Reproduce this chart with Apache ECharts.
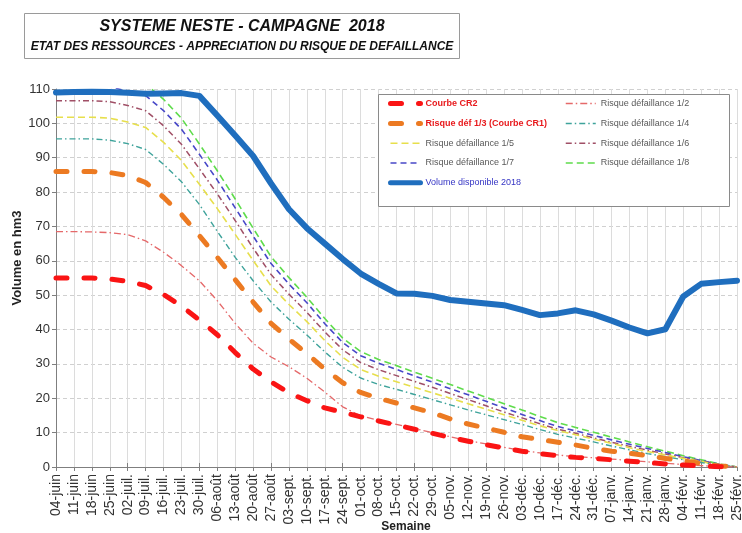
<!DOCTYPE html>
<html>
<head>
<meta charset="utf-8">
<script src="https://cdn.jsdelivr.net/npm/echarts@6/dist/echarts.min.js"></script>
<style>
  html, body { margin: 0; padding: 0; background: #fff; }
  #chart { width: 742px; height: 533px; }
</style>
</head>
<body>
<div id="chart"></div>
<script>
// Weekly dates of the campaign (June 2018 -> February 2019)
const weeks = ['04-juin','11-juin','18-juin','25-juin','02-juil.','09-juil.','16-juil.','23-juil.','30-juil.',
  '06-août','13-août','20-août','27-août','03-sept.','10-sept.','17-sept.','24-sept.','01-oct.','08-oct.',
  '15-oct.','22-oct.','29-oct.','05-nov.','12-nov.','19-nov.','26-nov.','03-déc.','10-déc.','17-déc.',
  '24-déc.','31-déc.','07-janv.','14-janv.','21-janv.','28-janv.','04-févr.','11-févr.','18-févr.','25-févr.'];

const yTicks = [0, 10, 20, 30, 40, 50, 60, 70, 80, 90, 100, 110];

// Volumes in hm3
const courbeCR2 = [55, 55, 55, 54.7, 54, 52.8, 50.2, 46.8, 42.8, 38.5, 33.3, 28.5, 24.8, 21.6, 19.3, 17.2, 15.9, 14.6, 13.4,
  12.2, 11, 9.8, 8.6, 7.5, 6.5, 5.5, 4.6, 3.9, 3.3, 2.8, 2.5, 2.1, 1.7, 1.3, 0.9, 0.6, 0.3, 0.1, 0];
const risque12 = [68.5, 68.5, 68.4, 68.2, 67.6, 65.8, 62.5, 58.6, 54.2, 48.4, 41.8, 36, 32, 29.2, 25.8, 21.8, 17.5, 14.9, 13.6,
  12.4, 11.2, 10, 8.8, 7.7, 6.7, 5.7, 4.8, 4.1, 3.5, 3.0, 2.7, 2.3, 1.9, 1.5, 1.1, 0.7, 0.4, 0.1, 0];
const courbeCR1 = [86, 86, 86, 85.7, 84.8, 82.8, 78.5, 73.5, 67.3, 61, 54.5, 48, 41.8, 37.2, 33, 28.5, 24.5, 21.7, 20,
  18.6, 17.2, 15.8, 14.0, 12.5, 11.3, 10.1, 8.8, 8.0, 7.2, 6.4, 5.4, 4.6, 4.0, 3.3, 2.5, 1.8, 1.0, 0.3, 0];
const risque14 = [95.5, 95.5, 95.5, 95.1, 94.1, 92.4, 88.1, 83.0, 76.4, 68.6, 61.0, 54.2, 48.0, 43.0, 38.4, 33.5, 29.0, 25.9, 24.0,
  22.6, 21.1, 19.6, 18.1, 16.6, 15.2, 13.8, 12.4, 10.9, 9.5, 8.4, 7.3, 6.1, 5.0, 3.9, 3.0, 2.1, 1.3, 0.5, 0];
const risque15 = [101.8, 101.8, 101.8, 101.5, 100.4, 98.8, 94.5, 89.2, 82.3, 75.2, 67.7, 60.1, 52.7, 47.3, 42.3, 36.8, 31.9, 28.4, 26.4,
  24.8, 23.2, 21.6, 20.0, 18.4, 16.8, 15.2, 13.6, 12.0, 10.6, 9.4, 8.1, 6.9, 5.6, 4.5, 3.5, 2.5, 1.6, 0.6, 0];
const risque16 = [106.6, 106.6, 106.6, 106.3, 105.2, 103.7, 99.3, 93.9, 86.8, 79.5, 71.7, 63.7, 56.0, 50.3, 45.0, 39.3, 34.1, 30.4, 28.3,
  26.6, 24.9, 23.2, 21.4, 19.6, 17.8, 16.0, 14.3, 12.6, 11.0, 9.8, 8.5, 7.2, 6.0, 4.9, 3.8, 2.7, 1.7, 0.7, 0];
const risque17 = [111, 111, 111, 110.6, 109.4, 108.1, 103.7, 98.3, 91.0, 83.5, 75.4, 67.2, 59.2, 53.2, 47.8, 41.7, 36.2, 32.4, 30.2,
  28.4, 26.5, 24.7, 22.8, 21.0, 19.1, 17.2, 15.3, 13.5, 11.8, 10.5, 9.2, 7.9, 6.6, 5.4, 4.2, 3.0, 1.9, 0.8, 0];
const risque18 = [114.4, 114.4, 114.4, 114.0, 112.8, 111.5, 107.0, 101.5, 94.0, 86.2, 78.0, 69.5, 61.2, 55.1, 49.4, 43.2, 37.5, 33.6, 31.3,
  29.5, 27.6, 25.8, 24.0, 22.1, 20.3, 18.4, 16.6, 14.7, 12.9, 11.5, 10.1, 8.7, 7.3, 5.9, 4.6, 3.3, 2.1, 0.9, 0];
const volume2018 = [109, 109.1, 109.2, 109.1, 108.9, 108.6, 108.7, 108.8, 108.0, 102.3, 96.5, 90.5, 82.5, 75, 69.5, 65, 60.5, 56.3, 53.3,
  50.5, 50.4, 49.8, 48.6, 48.1, 47.6, 47.1, 45.7, 44.2, 44.7, 45.6, 44.4, 42.6, 40.6, 38.9, 40.1, 49.6, 53.3, 53.8, 54.2];

const FONT = 'Liberation Sans, Arial, sans-serif';

function line(name, data, color, width, dash, z) {
  return {
    type: 'line', name: name, data: data, symbol: 'none', z: z,
    lineStyle: { color: color, width: width, type: dash, cap: width > 3 ? 'round' : 'butt', join: 'round' },
    itemStyle: { color: color },
    emphasis: { disabled: true }
  };
}

// legend entries show only the line sample, no marker
const legendBase = {
  orient: 'vertical', top: 98, padding: 0, itemWidth: 30, itemHeight: 14, itemGap: 8.6,
  selectedMode: false, z: 5,
  itemStyle: { color: 'rgba(0,0,0,0)', borderWidth: 0, opacity: 0 },
  lineStyle: { width: 1.5 },
  textStyle: { fontSize: 9, color: '#595959', fontFamily: FONT }
};

const chart = echarts.init(document.getElementById('chart'), null, { renderer: 'canvas' });

chart.setOption({
  animation: false,
  backgroundColor: '#fff',
  grid: { left: 56, right: 5, top: 89, bottom: 66, outerBoundsMode: 'none' },
  xAxis: [{
    type: 'category', data: weeks, boundaryGap: false,
    axisLine: { lineStyle: { color: '#7f7f7f', width: 1 } },
    axisTick: { show: true, length: 4, alignWithLabel: true, lineStyle: { color: '#7f7f7f' } },
    axisLabel: { rotate: 90, fontSize: 14, color: '#333', fontFamily: FONT, margin: 7, interval: 0 },
    splitLine: { show: true, lineStyle: { color: '#dcdcdc', width: 1, type: 'solid' } }
  }, {
    type: 'category', data: weeks, boundaryGap: false, position: 'bottom',
    axisLine: { show: false },
    axisTick: { show: true, inside: true, length: 4, lineStyle: { color: '#7f7f7f' } },
    axisLabel: { show: false },
    splitLine: { show: false }
  }],
  yAxis: {
    type: 'value', min: yTicks[0], max: yTicks[yTicks.length - 1], interval: 10,
    axisLine: { show: true, lineStyle: { color: '#7f7f7f', width: 1 } },
    axisTick: { show: true, length: 4, lineStyle: { color: '#7f7f7f' } },
    axisLabel: { fontSize: 13, color: '#333', fontFamily: FONT, margin: 6 },
    splitLine: { show: true, lineStyle: { color: '#d0d0d0', type: [4, 3], width: 1 } }
  },
  legend: [Object.assign({}, legendBase, {
    left: 388,
    data: [
      { name: 'Courbe CR2', lineStyle: { width: 5 }, textStyle: { color: '#e8191c', fontWeight: 'bold' } },
      { name: 'Risque déf 1/3 (Courbe CR1)', lineStyle: { width: 5 }, textStyle: { color: '#e8191c', fontWeight: 'bold' } },
      { name: 'Risque défaillance 1/5' },
      { name: 'Risque défaillance 1/7' },
      { name: 'Volume disponible 2018', lineStyle: { width: 5 }, textStyle: { color: '#3434c4' } }
    ]
  }), Object.assign({}, legendBase, {
    left: 565,
    data: ['Risque défaillance 1/2', 'Risque défaillance 1/4', 'Risque défaillance 1/6', 'Risque défaillance 1/8']
  })],
  graphic: [
    { type: 'rect', z: 3, shape: { x: 24.5, y: 13.5, width: 435, height: 45 },
      style: { fill: '#fff', stroke: '#9a9a9a', lineWidth: 1 } },
    { type: 'text', z: 4, x: 242, y: 27,
      style: { text: 'SYSTEME NESTE - CAMPAGNE  2018', align: 'center', verticalAlign: 'middle',
        fontSize: 16, fontWeight: 'bold', fontStyle: 'italic', fontFamily: FONT, fill: '#111' } },
    { type: 'text', z: 4, x: 242, y: 47,
      style: { text: 'ETAT DES RESSOURCES - APPRECIATION DU RISQUE DE DEFAILLANCE', align: 'center', verticalAlign: 'middle',
        fontSize: 12, fontWeight: 'bold', fontStyle: 'italic', fontFamily: FONT, fill: '#111' } },
    { type: 'rect', z: 3, shape: { x: 378.5, y: 94.5, width: 351, height: 112 },
      style: { fill: '#fff', stroke: '#8a8a8a', lineWidth: 1 } },
    { type: 'text', z: 4, x: 17, y: 258, rotation: Math.PI / 2,
      style: { text: 'Volume en hm3', align: 'center', verticalAlign: 'middle',
        fontSize: 13, fontWeight: 'bold', fontFamily: FONT, fill: '#222' } },
    { type: 'text', z: 4, x: 406, y: 521,
      style: { text: 'Semaine', align: 'center', verticalAlign: 'top',
        fontSize: 12, fontWeight: 'bold', fontFamily: FONT, fill: '#222' } }
  ],
  series: [
    line('Risque défaillance 1/8', risque18, '#5fdc4c', 1.6, [7, 4], 2),
    line('Risque défaillance 1/7', risque17, '#4848c8', 1.6, [6, 4], 2),
    line('Risque défaillance 1/6', risque16, '#a04f66', 1.5, [6, 3, 1.5, 3], 2),
    line('Risque défaillance 1/5', risque15, '#e7df4c', 1.6, [7, 4], 2),
    line('Risque défaillance 1/4', risque14, '#3ea39b', 1.4, [6, 3, 1.5, 3], 2),
    line('Risque défaillance 1/2', risque12, '#e5696a', 1.3, [7, 3, 1.5, 3], 2),
    line('Risque déf 1/3 (Courbe CR1)', courbeCR1, '#ec7a22', 5, [11, 17], 2),
    line('Courbe CR2', courbeCR2, '#fa1414', 5, [11, 17], 2),
    line('Volume disponible 2018', volume2018, '#1f6ebe', 6, 'solid', 3)
  ]
});
</script>
</body>
</html>
